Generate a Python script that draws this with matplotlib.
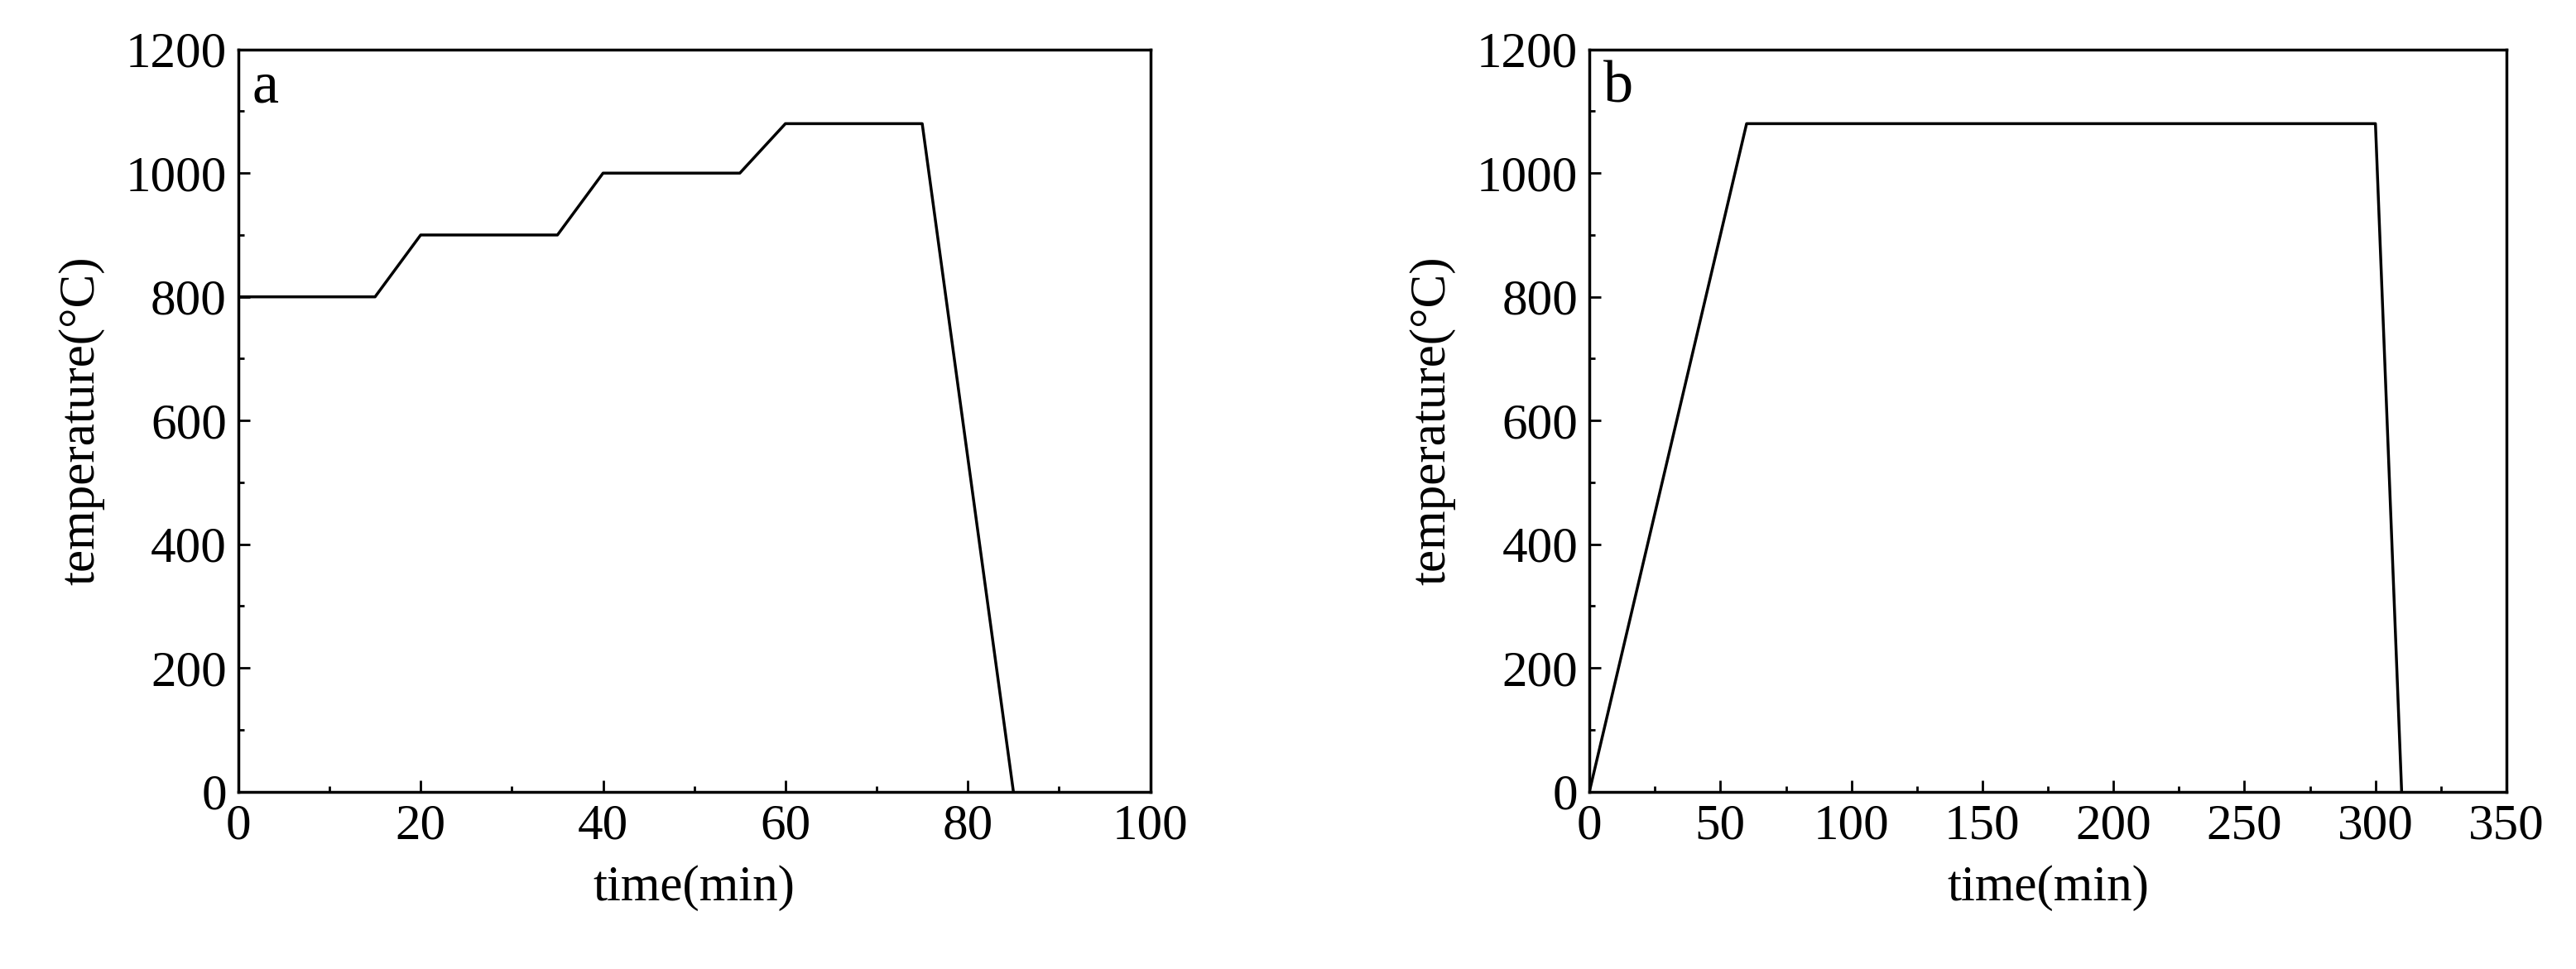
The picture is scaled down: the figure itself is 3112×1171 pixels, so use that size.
import matplotlib
matplotlib.use("Agg")
import matplotlib.pyplot as plt
from matplotlib.ticker import MultipleLocator

plt.rcParams['font.family'] = ['Liberation Serif', 'DejaVu Serif']

time_a = [0, 15, 20, 35, 40, 55, 60, 75, 85]
temp_a = [800, 800, 900, 900, 1000, 1000, 1080, 1080, 0]
time_b = [0, 60, 300, 310]
temp_b = [0, 1080, 1080, 0]

fig = plt.figure(figsize=(31.12, 11.71), dpi=100)
ax1 = fig.add_axes([0.0925, 0.183, 0.354, 0.766])
ax2 = fig.add_axes([0.617, 0.183, 0.356, 0.766])

for ax, t, y, xmax, xmaj, lab in [(ax1, time_a, temp_a, 100, 20, 'a'),
                                   (ax2, time_b, temp_b, 350, 50, 'b')]:
    ax.plot(t, y, color='black', lw=2.5)
    ax.set_xlim(0, xmax)
    ax.set_ylim(0, 1200)
    ax.xaxis.set_major_locator(MultipleLocator(xmaj))
    ax.xaxis.set_minor_locator(MultipleLocator(xmaj / 2))
    ax.yaxis.set_major_locator(MultipleLocator(200))
    ax.yaxis.set_minor_locator(MultipleLocator(100))
    ax.tick_params(which='both', direction='in', labelsize=44, width=2, pad=10)
    ax.tick_params(which='major', length=10)
    ax.tick_params(which='minor', length=5)
    for s in ax.spines.values():
        s.set_linewidth(2.5)
    ax.set_xlabel('time(min)', fontsize=44, labelpad=14)
    ax.set_ylabel('temperature(°C)', fontsize=44, labelpad=18)
    ax.text(0.015, 0.985, lab, transform=ax.transAxes, fontsize=52, va='top', ha='left')

fig.savefig('out.png', dpi=100)
